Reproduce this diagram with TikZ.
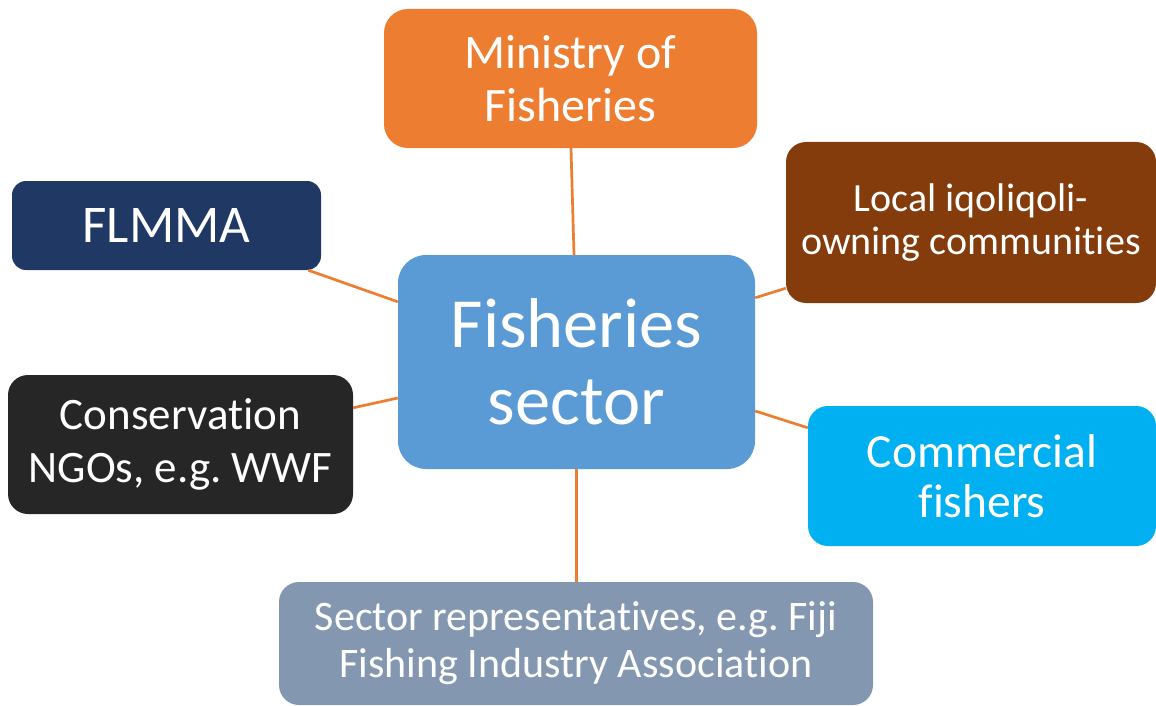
\documentclass[tikz,border=0pt]{standalone}
\usepackage{fontspec}
\setmainfont[Ligatures=NoCommon]{Carlito}
\usetikzlibrary{calc}
\frenchspacing
\definecolor{cCenter}{HTML}{5B9BD5}
\definecolor{cMin}{HTML}{ED7D31}
\definecolor{cLoc}{HTML}{843C0C}
\definecolor{cFl}{HTML}{203864}
\definecolor{cCon}{HTML}{262626}
\definecolor{cCom}{HTML}{00B0F0}
\definecolor{cSec}{HTML}{8497B0}
\definecolor{cLine}{HTML}{ED7D31}
\tikzset{
  box/.style={rectangle, rounded corners=20pt, text=white, align=center, inner sep=0pt},
  link/.style={draw=cLine, line width=2.7pt}
}
\begin{document}
\begin{tikzpicture}[x=1pt,y=-1pt]
\useasboundingbox (0,0) rectangle (1156,706);
\node[box, fill=cCenter, rounded corners=28pt, minimum width=357pt, minimum height=214pt,
  font=\fontsize{70.5}{77}\selectfont] (c) at (576.5,362) {Fisheries\\sector};
\node[box, fill=cMin, rounded corners=24pt, minimum width=373pt, minimum height=139pt,
  font=\fontsize{48}{53}\selectfont] (mof) at (570.5,78.5) {Ministry of\\Fisheries};
\node[box, fill=cLoc, minimum width=370pt, minimum height=161pt,
  font=\fontsize{40}{43}\selectfont] (loc) at (971,222.5) {Local iqoliqoli-\\owning communities};
\node[box, fill=cFl, rounded corners=14pt, minimum width=309pt, minimum height=89pt,
  font=\fontsize{53}{60}\selectfont] (fl) at (166.5,225.5) {FLMMA};
\node[box, fill=cCon, minimum width=345pt, minimum height=139pt,
  font=\fontsize{45}{53}\selectfont] (con) at (180.5,444.5) {Conservation\\NGOs, e.g. WWF};
\node[box, fill=cCom, minimum width=348pt, minimum height=140pt,
  font=\fontsize{47.5}{50}\selectfont] (com) at (982,476) {Commercial\\fishers};
\node[box, fill=cSec, minimum width=594pt, minimum height=123pt,
  font=\fontsize{42}{47}\selectfont] (sec) at (576,643.5) {Sector representatives, e.g. Fiji\\Fishing Industry Association};
\draw[link] ($(mof.south)+(0.5,0)$) -- ($(c.north)+(-2.5,0)$);
\draw[link] ($(fl.south east)+(-13,0)$) -- ($(c.north west)+(0,47)$);
\draw[link] ($(con.north east)+(0,33)$) -- ($(c.west)+(0,36)$);
\draw[link] ($(c.north east)+(0,43)$) -- ($(loc.south west)+(0,-15)$);
\draw[link] ($(c.east)+(0,49)$) -- ($(com.north west)+(0,22)$);
\draw[link] (c.south) -- (c.south |- sec.north);
\end{tikzpicture}
\end{document}
